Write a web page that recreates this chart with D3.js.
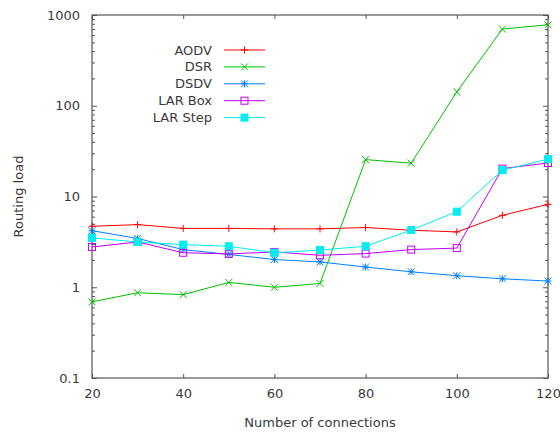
<!DOCTYPE html>
<html>
<head>
<meta charset="utf-8">
<script src="https://cdn.jsdelivr.net/npm/d3@7"></script>
<style>
  body { margin: 0; background: #fff; }
  text { font-family: "DejaVu Sans", sans-serif; font-size: 13px; fill: #3a3a3a; }
</style>
</head>
<body>
<div id="chart"></div>
<script>
// x values (number of connections)
const connections = [20, 30, 40, 50, 60, 70, 80, 90, 100, 110, 120];

// routing load per protocol
const aodv = [4.7, 4.9, 4.45, 4.45, 4.4, 4.4, 4.55, 4.25, 4.07, 6.2, 8.2];
const dsr = [0.69, 0.87, 0.83, 1.13, 1.0, 1.1, 25.5, 23.3, 142, 700, 780];
const dsdv = [4.2, 3.45, 2.6, 2.3, 2.02, 1.9, 1.67, 1.48, 1.34, 1.24, 1.17];
const larBox = [2.78, 3.15, 2.4, 2.33, 2.45, 2.25, 2.35, 2.6, 2.7, 20.3, 23.4];
const larStep = [3.5, 3.15, 2.95, 2.83, 2.4, 2.57, 2.83, 4.27, 6.8, 19.5, 25.8];

const seriesNames = ['AODV', 'DSR', 'DSDV', 'LAR Box', 'LAR Step'];
const seriesValues = [aodv, dsr, dsdv, larBox, larStep];
const seriesColors = ['#ff0000', '#00c000', '#0080ff', '#c000ff', '#00eeee'];
const seriesMarkers = ['plus', 'cross', 'star', 'box', 'fbox'];

const xTicks = [20, 40, 60, 80, 100, 120];
const yTicks = [0.1, 1, 10, 100, 1000];

const width = 560, height = 432;
const margin = { top: 15, right: 12, bottom: 54, left: 92 };
const innerW = width - margin.left - margin.right;
const innerH = height - margin.top - margin.bottom;

const svg = d3.select('#chart').append('svg')
  .attr('width', width)
  .attr('height', height);

const x = d3.scaleLinear().domain([20, 120]).range([0, innerW]);
const y = d3.scaleLog().domain([0.1, 1000]).range([innerH, 0]);

const g = svg.append('g')
  .attr('transform', `translate(${margin.left},${margin.top})`);

// minor log ticks
const minor = [];
yTicks.slice(0, -1).forEach(t => {
  for (let k = 2; k <= 9; k++) minor.push(t * k);
});

const axisColor = '#555';

// frame
g.append('rect')
  .attr('width', innerW)
  .attr('height', innerH)
  .attr('fill', 'none')
  .attr('stroke', axisColor)
  .attr('stroke-width', 1.2);

// y axis, ticks inward on both sides
const gy = g.append('g')
  .call(d3.axisLeft(y).tickValues(yTicks).tickSize(-5).tickPadding(12)
    .tickFormat(d3.format('~g')));
gy.select('.domain').remove();

g.append('g').call(d3.axisLeft(y).tickValues(minor).tickSize(-3).tickFormat(''))
  .select('.domain').remove();
g.append('g').attr('transform', `translate(${innerW},0)`)
  .call(d3.axisRight(y).tickValues(yTicks).tickSize(-5).tickFormat(''))
  .select('.domain').remove();
g.append('g').attr('transform', `translate(${innerW},0)`)
  .call(d3.axisRight(y).tickValues(minor).tickSize(-3).tickFormat(''))
  .select('.domain').remove();

// x axis, ticks inward top and bottom
const gx = g.append('g').attr('transform', `translate(0,${innerH})`)
  .call(d3.axisBottom(x).tickValues(xTicks).tickSize(-4).tickPadding(11));
gx.select('.domain').remove();
g.append('g')
  .call(d3.axisTop(x).tickValues(xTicks).tickSize(-4).tickFormat(''))
  .select('.domain').remove();

g.selectAll('.tick line').attr('stroke', axisColor);
g.selectAll('.tick text')
  .style('font-family', '"DejaVu Sans", sans-serif')
  .style('font-size', '13px')
  .attr('fill', '#3a3a3a');

// axis titles
svg.append('text')
  .attr('x', margin.left + innerW / 2)
  .attr('y', 427)
  .attr('text-anchor', 'middle')
  .text('Number of connections');

svg.append('text')
  .attr('transform', `translate(23,${margin.top + innerH / 2}) rotate(-90)`)
  .attr('text-anchor', 'middle')
  .text('Routing load');

// marker drawing
function drawMarker(sel, type, color, s) {
  if (type === 'plus' || type === 'star') {
    sel.append('line').attr('x1', -s).attr('x2', s).attr('y1', 0).attr('y2', 0);
    sel.append('line').attr('x1', 0).attr('x2', 0).attr('y1', -s).attr('y2', s);
  }
  if (type === 'cross' || type === 'star') {
    sel.append('line').attr('x1', -s).attr('x2', s).attr('y1', -s).attr('y2', s);
    sel.append('line').attr('x1', -s).attr('x2', s).attr('y1', s).attr('y2', -s);
  }
  if (type === 'box') {
    sel.append('rect').attr('x', -s).attr('y', -s).attr('width', 2 * s).attr('height', 2 * s)
      .attr('fill', 'none');
  }
  if (type === 'fbox') {
    sel.append('rect').attr('x', -s).attr('y', -s).attr('width', 2 * s).attr('height', 2 * s)
      .attr('fill', color);
  }
  sel.selectAll('line, rect').attr('stroke', color).attr('stroke-width', 1);
}

const line = d3.line()
  .x((d, i) => x(connections[i]))
  .y(d => y(d));

seriesValues.forEach((vals, si) => {
  const color = seriesColors[si];
  const sg = g.append('g');
  sg.append('path')
    .attr('d', line(vals))
    .attr('fill', 'none')
    .attr('stroke', color)
    .attr('stroke-width', 1);
  vals.forEach((v, i) => {
    const m = sg.append('g')
      .attr('transform', `translate(${x(connections[i])},${y(v)})`);
    drawMarker(m, seriesMarkers[si], color, 3.5);
  });
});

// legend
const legend = svg.append('g');
const legendY0 = 50, legendDy = 16.9;
seriesNames.forEach((name, si) => {
  const ly = legendY0 + si * legendDy;
  legend.append('text')
    .attr('x', 212)
    .attr('y', ly)
    .attr('dy', '0.35em')
    .attr('text-anchor', 'end')
    .text(name);
  legend.append('line')
    .attr('x1', 224).attr('x2', 265)
    .attr('y1', ly).attr('y2', ly)
    .attr('stroke', seriesColors[si])
    .attr('stroke-width', 1);
  const m = legend.append('g').attr('transform', `translate(244.5,${ly})`);
  drawMarker(m, seriesMarkers[si], seriesColors[si], 3.5);
});
</script>
</body>
</html>
